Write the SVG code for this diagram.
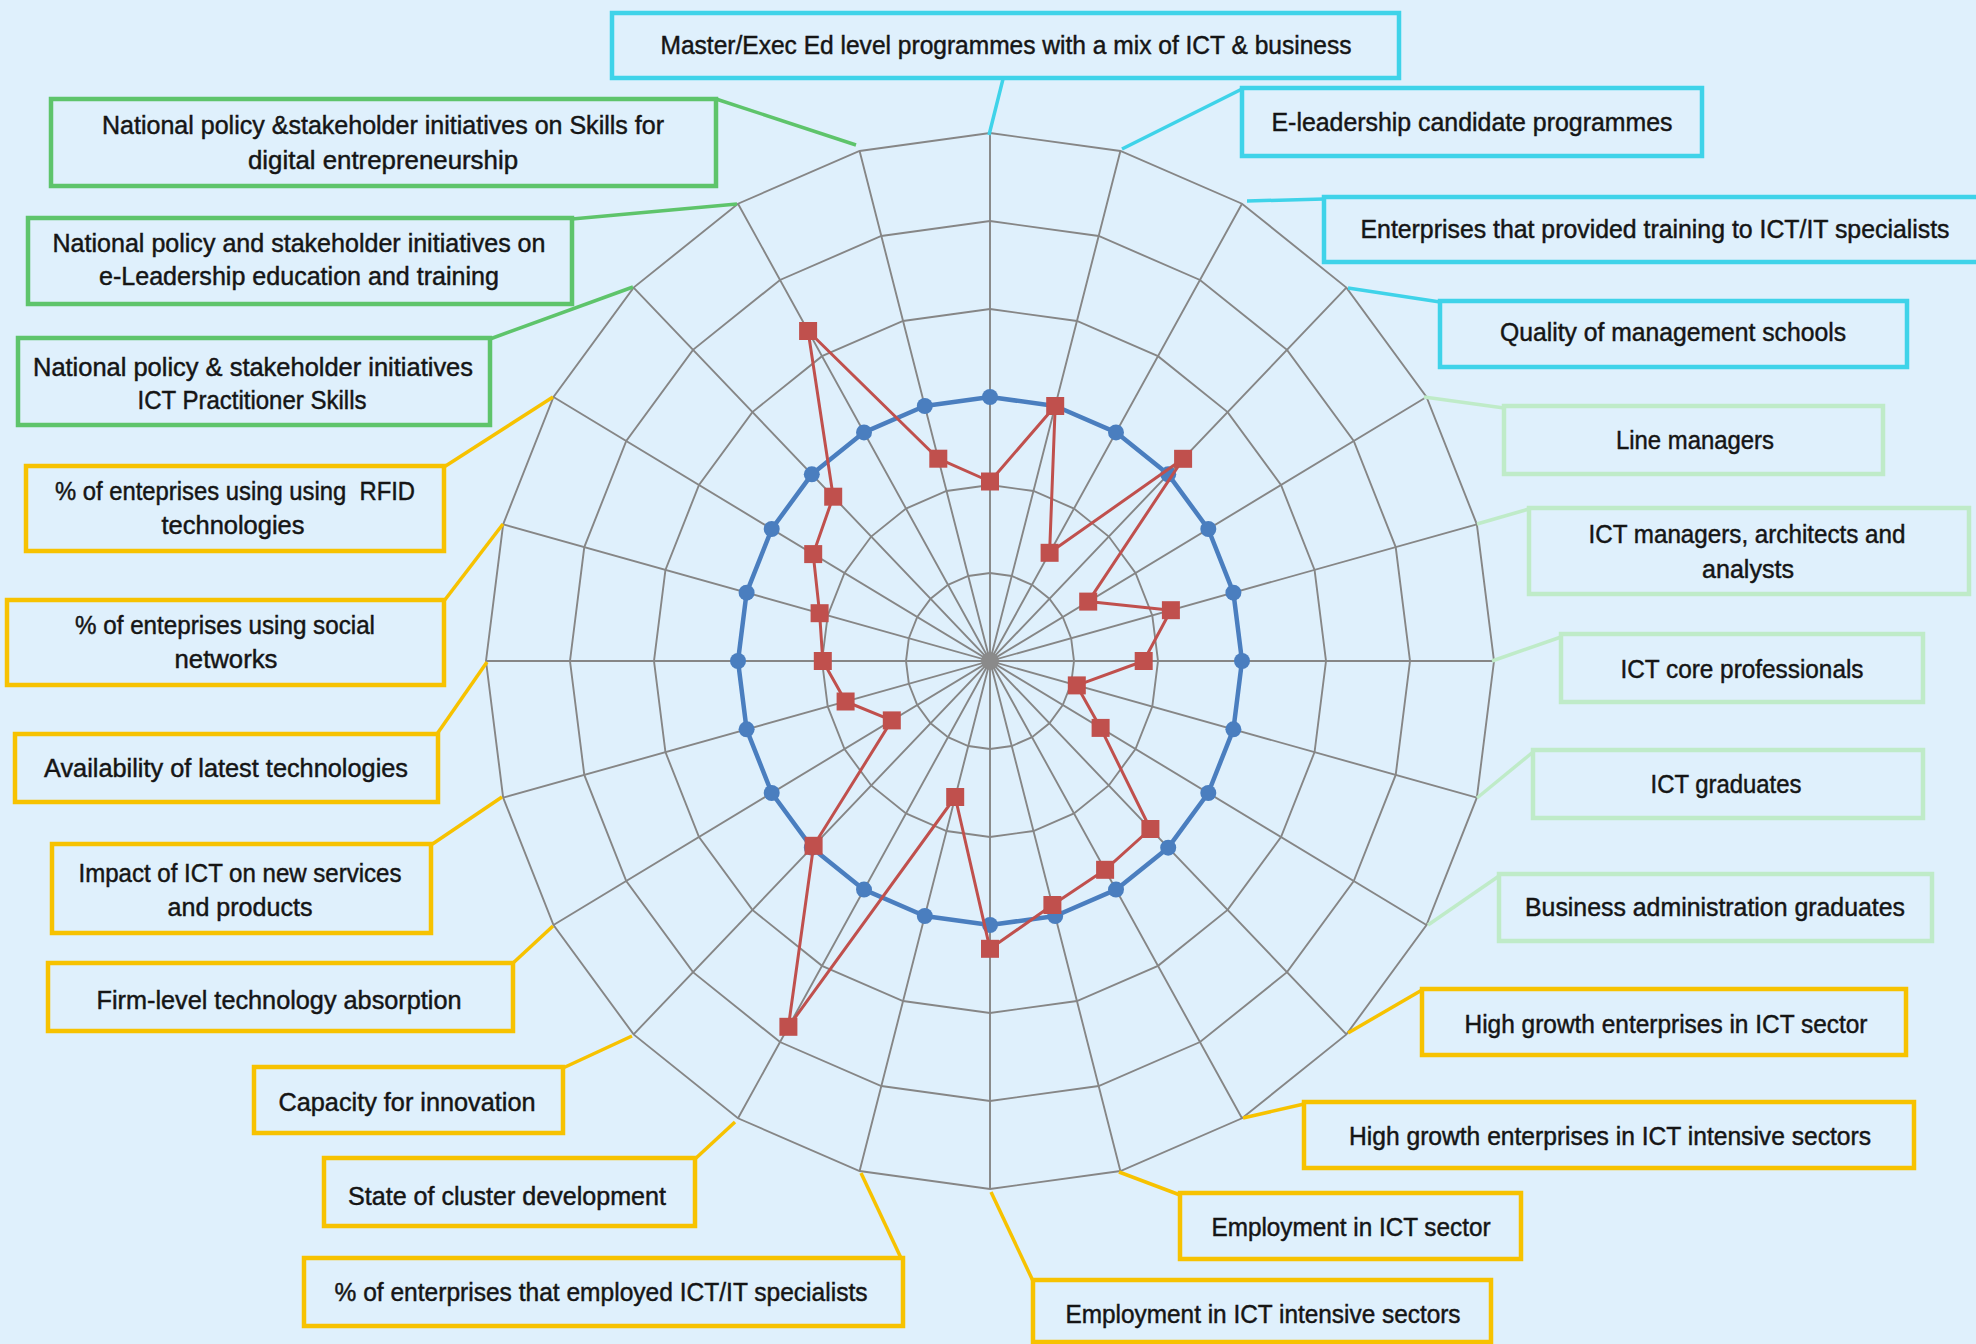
<svg xmlns="http://www.w3.org/2000/svg" xmlns:xlink="http://www.w3.org/1999/xlink" width="1976" height="1344" viewBox="0 0 1976 1344">
<style>
.bx{fill:none;stroke-width:4.5}
.cy{stroke:#3fd3e9}
.gr{stroke:#5ec46b}
.lg{stroke:#bfebc8}
.ye{stroke:#f7c200}
.con line{stroke-width:3.5}
text{font-family:"Liberation Sans",Arial,sans-serif;font-size:25px;fill:#151515;stroke:#151515;stroke-width:0.45;text-anchor:middle}
.grid{fill:none;stroke:#868686;stroke-width:1.9}
</style>
<defs>
<polygon id="ring" vector-effect="non-scaling-stroke" points="0,-88 21.74,-85 42,-76.21 59.4,-62.23 72.75,-44 81.14,-22.78 84,0 81.14,22.78 72.75,44 59.4,62.23 42,76.21 21.74,85 0,88 -21.74,85 -42,76.21 -59.4,62.23 -72.75,44 -81.14,22.78 -84,0 -81.14,-22.78 -72.75,-44 -59.4,-62.23 -42,-76.21 -21.74,-85"/>
<circle id="dot" r="8" fill="#4a7ebf"/>
<rect id="sq" x="-9" y="-9" width="18" height="18" fill="#c0504d"/>
</defs>
<rect width="1976" height="1344" fill="#dff0fc"/>
<g id="chart" transform="translate(990,661)">
<g class="grid">
<use xlink:href="#ring" href="#ring" transform="scale(1)"/>
<use xlink:href="#ring" href="#ring" transform="scale(2)"/>
<use xlink:href="#ring" href="#ring" transform="scale(3)"/>
<use xlink:href="#ring" href="#ring" transform="scale(4)"/>
<use xlink:href="#ring" href="#ring" transform="scale(5)"/>
<use xlink:href="#ring" href="#ring" transform="scale(6)"/>
<path d="M0,-528L0,528M130.4,-510L-130.4,510M252,-457.3L-252,457.3M356.4,-373.4L-356.4,373.4M436.5,-264L-436.5,264M486.8,-136.7L-486.8,136.7M504,0L-504,0M486.8,136.7L-486.8,-136.7M436.5,264L-436.5,-264M356.4,373.4L-356.4,-373.4M252,457.3L-252,-457.3M130.4,510L-130.4,-510"/>
</g>
<circle r="9" fill="#8a8a8a"/>
<g id="series-blue">
<use xlink:href="#ring" href="#ring" transform="scale(3)" fill="none" stroke="#4a7ebf" stroke-width="4.5" stroke-linejoin="round"/>
<use href="#dot" x="0" y="-264"/><use href="#dot" x="65.2" y="-255"/><use href="#dot" x="126" y="-228.6"/><use href="#dot" x="178.2" y="-186.7"/><use href="#dot" x="218.3" y="-132"/><use href="#dot" x="243.4" y="-68.3"/><use href="#dot" x="252" y="0"/><use href="#dot" x="243.4" y="68.3"/><use href="#dot" x="218.3" y="132"/><use href="#dot" x="178.2" y="186.7"/><use href="#dot" x="126" y="228.6"/><use href="#dot" x="65.2" y="255"/><use href="#dot" x="0" y="264"/><use href="#dot" x="-65.2" y="255"/><use href="#dot" x="-126" y="228.6"/><use href="#dot" x="-178.2" y="186.7"/><use href="#dot" x="-218.3" y="132"/><use href="#dot" x="-243.4" y="68.3"/><use href="#dot" x="-252" y="0"/><use href="#dot" x="-243.4" y="-68.3"/><use href="#dot" x="-218.3" y="-132"/><use href="#dot" x="-178.2" y="-186.7"/><use href="#dot" x="-126" y="-228.6"/><use href="#dot" x="-65.2" y="-255"/>
</g>
<g id="series-red">
<polygon fill="none" stroke="#c0504d" stroke-width="3" stroke-linejoin="round" points="0,-179.5 65.2,-255 59.6,-108.2 193.1,-202.2 98.2,-59.4 180.9,-50.8 153.7,0 86.8,24.4 110.6,66.9 160.4,168 115.1,208.8 62.4,244 0,287.8 -34.8,136 -201.6,365.8 -176.4,184.8 -98.2,59.4 -144.4,40.5 -167.2,0 -170.4,-47.8 -176.8,-106.9 -156.8,-164.3 -181.9,-330 -51.7,-202.3"/>
<use href="#sq" x="0" y="-179.5"/><use href="#sq" x="65.2" y="-255"/><use href="#sq" x="59.6" y="-108.2"/><use href="#sq" x="193.1" y="-202.2"/><use href="#sq" x="98.2" y="-59.4"/><use href="#sq" x="180.9" y="-50.8"/><use href="#sq" x="153.7" y="0"/><use href="#sq" x="86.8" y="24.4"/><use href="#sq" x="110.6" y="66.9"/><use href="#sq" x="160.4" y="168"/><use href="#sq" x="115.1" y="208.8"/><use href="#sq" x="62.4" y="244"/><use href="#sq" x="0" y="287.8"/><use href="#sq" x="-34.8" y="136"/><use href="#sq" x="-201.6" y="365.8"/><use href="#sq" x="-176.4" y="184.8"/><use href="#sq" x="-98.2" y="59.4"/><use href="#sq" x="-144.4" y="40.5"/><use href="#sq" x="-167.2" y="0"/><use href="#sq" x="-170.4" y="-47.8"/><use href="#sq" x="-176.8" y="-106.9"/><use href="#sq" x="-156.8" y="-164.3"/><use href="#sq" x="-181.9" y="-330"/><use href="#sq" x="-51.7" y="-202.3"/>
</g>
</g>
<g id="connectors" class="con">
<line class="cy" x1="1003" y1="79" x2="989" y2="135"/>
<line class="cy" x1="1242" y1="89" x2="1122" y2="149"/>
<line class="cy" x1="1324" y1="199" x2="1247" y2="201"/>
<line class="cy" x1="1440" y1="302" x2="1348" y2="288"/>
<line class="lg" x1="1504" y1="408" x2="1424" y2="397"/>
<line class="lg" x1="1529" y1="509" x2="1477" y2="524"/>
<line class="lg" x1="1561" y1="637" x2="1492" y2="661"/>
<line class="lg" x1="1533" y1="752" x2="1477" y2="798"/>
<line class="lg" x1="1499" y1="876" x2="1428" y2="925"/>
<line class="ye" x1="1422" y1="990" x2="1348" y2="1033"/>
<line class="ye" x1="1304" y1="1104" x2="1243" y2="1118"/>
<line class="ye" x1="1119" y1="1172" x2="1180" y2="1195"/>
<line class="ye" x1="991" y1="1192" x2="1033" y2="1281"/>
<line class="ye" x1="861" y1="1173" x2="901" y2="1258"/>
<line class="ye" x1="735" y1="1122" x2="695" y2="1159"/>
<line class="ye" x1="632" y1="1036" x2="563" y2="1068"/>
<line class="ye" x1="553" y1="926" x2="512" y2="964"/>
<line class="ye" x1="502" y1="797" x2="431" y2="845"/>
<line class="ye" x1="487" y1="662" x2="437" y2="734"/>
<line class="ye" x1="503" y1="524" x2="444" y2="601"/>
<line class="ye" x1="553" y1="397" x2="444" y2="467"/>
<line class="gr" x1="633" y1="287" x2="490" y2="339"/>
<line class="gr" x1="737" y1="204" x2="572" y2="219"/>
<line class="gr" x1="716" y1="99" x2="856" y2="145"/>
</g>
<g id="n01"><rect class="bx cy" x="612" y="13" width="787" height="65"/><text x="1006" y="54" textLength="691" lengthAdjust="spacingAndGlyphs">Master/Exec Ed level programmes with a mix of ICT &amp; business</text></g>
<g id="n02"><rect class="bx cy" x="1242" y="88" width="460" height="68"/><text x="1472" y="131" textLength="401" lengthAdjust="spacingAndGlyphs">E-leadership candidate programmes</text></g>
<g id="n03"><rect class="bx cy" x="1324" y="197" width="680" height="65"/><text x="1655" y="238" textLength="589" lengthAdjust="spacingAndGlyphs">Enterprises that provided training to ICT/IT specialists</text></g>
<g id="n04"><rect class="bx cy" x="1440" y="301" width="467" height="66"/><text x="1673" y="341" textLength="346" lengthAdjust="spacingAndGlyphs">Quality of management schools</text></g>
<g id="n05"><rect class="bx lg" x="1504" y="406" width="379" height="68"/><text x="1695" y="449" textLength="158" lengthAdjust="spacingAndGlyphs">Line managers</text></g>
<g id="n06"><rect class="bx lg" x="1529" y="508" width="440" height="86"/><text x="1747" y="543" textLength="317" lengthAdjust="spacingAndGlyphs">ICT managers, architects and</text><text x="1748" y="578" textLength="92" lengthAdjust="spacingAndGlyphs">analysts</text></g>
<g id="n07"><rect class="bx lg" x="1561" y="634" width="362" height="68"/><text x="1742" y="678" textLength="243" lengthAdjust="spacingAndGlyphs">ICT core professionals</text></g>
<g id="n08"><rect class="bx lg" x="1533" y="750" width="390" height="68"/><text x="1726" y="793" textLength="151" lengthAdjust="spacingAndGlyphs">ICT graduates</text></g>
<g id="n09"><rect class="bx lg" x="1499" y="874" width="433" height="67"/><text x="1715" y="916" textLength="380" lengthAdjust="spacingAndGlyphs">Business administration graduates</text></g>
<g id="n10"><rect class="bx ye" x="1422" y="989" width="484" height="66"/><text x="1666" y="1033" textLength="403" lengthAdjust="spacingAndGlyphs">High growth enterprises in ICT sector</text></g>
<g id="n11"><rect class="bx ye" x="1304" y="1102" width="610" height="66"/><text x="1610" y="1145" textLength="522" lengthAdjust="spacingAndGlyphs">High growth enterprises in ICT intensive sectors</text></g>
<g id="n12"><rect class="bx ye" x="1180" y="1193" width="341" height="66"/><text x="1351" y="1236" textLength="279" lengthAdjust="spacingAndGlyphs">Employment in ICT sector</text></g>
<g id="n13"><rect class="bx ye" x="1033" y="1280" width="458" height="62"/><text x="1263" y="1323" textLength="395" lengthAdjust="spacingAndGlyphs">Employment in ICT intensive sectors</text></g>
<g id="n14"><rect class="bx ye" x="304" y="1258" width="599" height="68"/><text x="601" y="1301" textLength="533" lengthAdjust="spacingAndGlyphs">% of enterprises that employed ICT/IT specialists</text></g>
<g id="n15"><rect class="bx ye" x="324" y="1158" width="371" height="68"/><text x="507" y="1205" textLength="318" lengthAdjust="spacingAndGlyphs">State of cluster development</text></g>
<g id="n16"><rect class="bx ye" x="254" y="1067" width="309" height="66"/><text x="407" y="1111" textLength="257" lengthAdjust="spacingAndGlyphs">Capacity for innovation</text></g>
<g id="n17"><rect class="bx ye" x="48" y="963" width="465" height="68"/><text x="279" y="1009" textLength="365" lengthAdjust="spacingAndGlyphs">Firm-level technology absorption</text></g>
<g id="n18"><rect class="bx ye" x="52" y="844" width="379" height="89"/><text x="240" y="882" textLength="323" lengthAdjust="spacingAndGlyphs">Impact of ICT on new services</text><text x="240" y="916" textLength="145" lengthAdjust="spacingAndGlyphs">and products</text></g>
<g id="n19"><rect class="bx ye" x="15" y="734" width="423" height="68"/><text x="226" y="777" textLength="364" lengthAdjust="spacingAndGlyphs">Availability of latest technologies</text></g>
<g id="n20"><rect class="bx ye" x="7" y="600" width="437" height="85"/><text x="225" y="634" textLength="300" lengthAdjust="spacingAndGlyphs">% of enteprises using social</text><text x="226" y="668" textLength="103" lengthAdjust="spacingAndGlyphs">networks</text></g>
<g id="n21"><rect class="bx ye" x="26" y="466" width="418" height="85"/><text x="235" y="500" textLength="360" lengthAdjust="spacingAndGlyphs" xml:space="preserve">% of enteprises using using  RFID</text><text x="233" y="534" textLength="143" lengthAdjust="spacingAndGlyphs">technologies</text></g>
<g id="n22"><rect class="bx gr" x="18" y="338" width="472" height="87"/><text x="253" y="376" textLength="440" lengthAdjust="spacingAndGlyphs">National policy &amp; stakeholder initiatives</text><text x="252" y="409" textLength="229" lengthAdjust="spacingAndGlyphs">ICT Practitioner Skills</text></g>
<g id="n23"><rect class="bx gr" x="28" y="218" width="544" height="86"/><text x="299" y="252" textLength="493" lengthAdjust="spacingAndGlyphs">National policy and stakeholder initiatives on</text><text x="299" y="285" textLength="400" lengthAdjust="spacingAndGlyphs">e-Leadership education and training</text></g>
<g id="n24"><rect class="bx gr" x="51" y="99" width="665" height="87"/><text x="383" y="134" textLength="562" lengthAdjust="spacingAndGlyphs">National policy &amp;stakeholder initiatives on Skills for</text><text x="383" y="169" textLength="270" lengthAdjust="spacingAndGlyphs">digital entrepreneurship</text></g>
</svg>
